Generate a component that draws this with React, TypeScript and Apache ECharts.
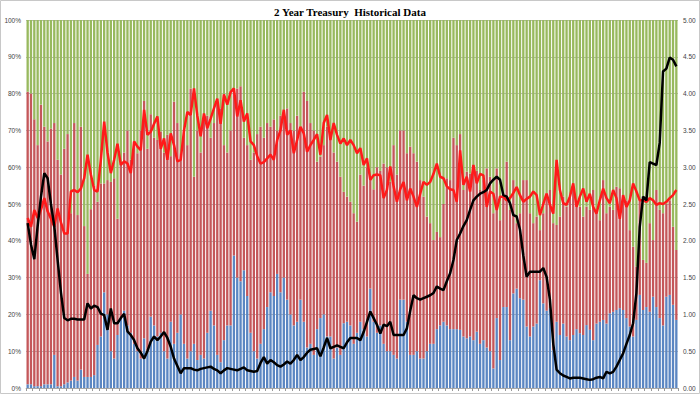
import React, { useEffect, useRef } from "react";
import * as echarts from "echarts";

// Share of each auction taken by the bottom (blue) bidder group, in %
const blueShare = [
  1, 1, 0.5, 0.5, 0.5, 1, 1, 1, 9, 0.5,
  0.5, 1, 1.5, 2, 3, 2, 5, 3, 3, 3,
  3.5, 11.7, 14, 26, 20, 10, 8, 14.4, 19, 21,
  17, 15, 12, 10, 8, 13.5, 10, 19.4, 17, 14,
  15, 10, 8, 18, 12, 15, 20, 12, 8, 10,
  12, 7.6, 9, 8, 15, 21, 17, 9, 7, 13,
  17, 17, 36, 30, 29, 32, 25, 15, 10, 8,
  12, 16, 22, 26, 25, 31, 26, 30, 24, 20,
  17, 18, 24, 18, 11, 12, 9, 16, 19, 20,
  14, 14, 8, 11, 9, 17.6, 18, 17, 12, 15,
  18, 16, 14, 27, 18, 15, 17, 12, 10, 10,
  9, 8, 24, 24, 18, 9, 9, 10, 8, 8,
  10, 12, 12, 16, 17, 18, 17, 16, 16, 16,
  15.8, 14, 13.5, 14, 13, 15.3, 12, 13, 11, 10,
  5.3, 19, 7.6, 22, 22, 13, 25.7, 27, 24.4, 24,
  16.7, 14, 16.7, 17.5, 29.3, 23, 21, 21.7, 10.3, 18,
  14.4, 17.5, 14, 13, 14.4, 16, 14.9, 14.4, 17.1, 15.8,
  13, 17.5, 18, 18.5, 17.5, 20.3, 20.7, 21.2, 21.7, 21.2,
  19, 16.7, 14, 18.5, 25.3, 21.2, 22, 20.7, 24.8, 22,
  19, 17, 24.8, 25.3, 22.6, 18.5,
];

// Top of the red segment (blue + red), in %; green fills the rest up to 100%
const blueRedTop = [
  80.5, 80, 73, 66, 77, 71, 67, 70.5, 72, 62,
  58, 65, 69, 47.5, 72, 47, 71, 44, 31, 48.6,
  55, 50.6, 55.6, 55.6, 56.5, 56, 57, 46, 61, 64,
  70, 62, 67, 63.8, 70, 78, 65, 74.4, 68, 67.4,
  69.7, 64, 68.8, 63, 77.8, 72, 63.8, 70, 66, 81.4,
  57.4, 70, 64, 74, 74, 68, 72, 77, 76, 66,
  64, 70, 81, 81.4, 82, 68, 66, 62, 64, 69,
  71, 68, 72, 71, 73, 70, 74, 75, 76, 72,
  70, 74, 71, 80.5, 78, 72, 70, 61.5, 62.9, 66,
  71, 68, 64, 61.5, 57.4, 53.3, 52, 50.6, 47.5, 45.2,
  58, 55, 60, 57, 54, 60, 59, 61, 60, 56,
  66, 58, 70, 70, 63.8, 65.6, 63.8, 61.5, 56.5, 52,
  46.6, 44.8, 40.2, 42.4, 41, 50, 57, 56.5, 68, 66,
  69, 53.8, 58.8, 58.3, 60.6, 59, 53.8, 56.5, 59.7, 57.4,
  47.5, 59.7, 45.6, 52.9, 61.5, 48.4, 56.5, 44.8, 47.5, 56.5,
  56.5, 47.5, 44.8, 46.6, 42.9, 47.5, 52.9, 53.8, 44.8, 44.3,
  46.6, 52, 49.3, 52, 53.8, 50.2, 49.3, 46.6, 49.3, 48.4,
  53.8, 48.4, 45.6, 56.5, 47.5, 49.3, 48.4, 54.7, 54.3, 52,
  51, 42.9, 38.4, 33, 51, 34.8, 34, 44.8, 40.2, 53.8,
  48.4, 47.5, 50, 51, 43.8, 37.5,
];

// Bid-to-cover ratio (right axis)
const bidToCover = [
  2.31, 2.19, 2.42, 2.31, 2.42, 2.58, 2.4, 2.3, 2.19, 2.44,
  2.25, 2.1, 2.1, 2.67, 2.69, 2.66, 2.71, 2.85, 3.17, 2.9,
  2.69, 2.67, 3.1, 3.62, 3.2, 2.92, 3.1, 3.32, 3.03, 3.08,
  3.05, 2.92, 3.35, 3.28, 3.23, 3.78, 3.44, 3.48, 3.59, 3.69,
  3.25, 3.39, 3.1, 3.46, 3.3, 3.08, 3.1, 3.5, 3.75, 3.71,
  4.07, 3.7, 3.42, 3.73, 3.53, 3.66, 3.8, 3.93, 3.59, 3.99,
  3.85, 4.02, 4.07, 3.69, 3.91, 3.62, 3.73, 3.35, 3.3, 3.15,
  3.05, 3.07, 3.12, 3.17, 3.1, 3.37, 3.5, 3.78, 3.44, 3.5,
  3.19, 3.37, 3.55, 3.46, 3.21, 3.3, 3.37, 3.45, 3.17, 3.6,
  3.71, 3.37, 3.6, 3.44, 3.32, 3.39, 3.3, 3.37, 3.3, 3.19,
  3.26, 3.03, 3.12, 2.83, 2.89, 2.9, 2.89, 2.58, 2.69, 3.01,
  2.74, 2.53, 2.7, 2.8, 2.55, 2.71, 2.6, 2.46, 2.64, 2.8,
  2.76, 2.8, 2.91, 3.05, 2.87, 2.85, 2.74, 2.7, 2.69, 2.53,
  3.23, 2.76, 2.87, 2.67, 3.03, 2.78, 2.91, 2.89, 2.46, 2.67,
  2.64, 2.42, 2.6, 2.6, 2.55, 2.58, 2.65, 2.73, 2.62, 2.53,
  2.57, 2.6, 2.67, 2.62, 2.35, 2.5, 2.64, 2.49, 2.37, 3.1,
  2.69, 2.51, 2.49, 2.6, 2.78, 2.46, 2.6, 2.71, 2.53, 2.64,
  2.46, 2.37, 2.55, 2.71, 2.58, 2.51, 2.69, 2.58, 2.3, 2.62,
  2.46, 2.55, 2.78, 2.67, 2.55, 2.55, 2.53, 2.58, 2.55, 2.49,
  2.51, 2.5, 2.53, 2.58, 2.62, 2.69,
];

// High yield (right axis)
const highYield = [
  2.24, 1.95, 1.75, 2.2, 2.6, 2.92, 2.85, 2.5, 2.2, 1.74,
  1.3, 0.95, 0.92, 0.94, 0.94, 0.93, 0.93, 0.93, 1.15, 1.08,
  1.12, 1.1, 1.01, 0.99, 0.79, 1.08, 0.88, 0.88, 0.95, 1.01,
  0.77, 0.72, 0.65, 0.54, 0.48, 0.4, 0.5, 0.63, 0.7, 0.65,
  0.7, 0.76, 0.68, 0.56, 0.4, 0.3, 0.2, 0.27, 0.27, 0.27,
  0.25, 0.24, 0.26, 0.27, 0.28, 0.29, 0.26, 0.24, 0.2, 0.24,
  0.27, 0.26, 0.25, 0.24, 0.26, 0.28, 0.24, 0.23, 0.22, 0.23,
  0.34, 0.42, 0.33, 0.38, 0.35, 0.31, 0.29, 0.32, 0.36, 0.33,
  0.38, 0.45, 0.38, 0.42, 0.48, 0.52, 0.53, 0.54, 0.43, 0.55,
  0.68, 0.54, 0.56, 0.58, 0.56, 0.54, 0.62, 0.68, 0.68, 0.68,
  0.65, 0.76, 0.9, 1.04, 0.95, 0.86, 0.74, 0.86, 0.84, 0.9,
  0.72, 0.72, 0.72, 0.72, 0.81, 1.05, 1.26, 1.22, 1.2, 1.22,
  1.24, 1.26, 1.29, 1.38, 1.35, 1.33, 1.45, 1.56, 1.74, 2.01,
  2.1, 2.2, 2.28, 2.42, 2.55, 2.6, 2.64, 2.66, 2.69, 2.78,
  2.83, 2.87, 2.83, 2.62, 2.6, 2.51, 2.35, 2.33, 2.15, 1.8,
  1.51, 1.58, 1.58, 1.58, 1.58, 1.63, 1.51, 1.2, 0.6, 0.25,
  0.2, 0.17, 0.15, 0.13, 0.14, 0.14, 0.14, 0.13, 0.12, 0.11,
  0.12, 0.14, 0.15, 0.13, 0.22, 0.2, 0.22, 0.29, 0.38, 0.47,
  0.6, 0.72, 0.88, 1.29, 2.19, 2.6, 2.55, 3.07, 3.05, 3.03,
  3.33, 4.3, 4.34, 4.49, 4.46, 4.37,
];

const categories = blueShare.map((_, i) => String(i + 1));

export default function App() {
  const ref = useRef<HTMLDivElement>(null);

  useEffect(() => {
    document.body.style.margin = "0";
    const chart = echarts.init(ref.current!, null, { renderer: "svg" });
    const redShare = blueRedTop.map((t, i) => +(t - blueShare[i]).toFixed(1));
    const greenShare = blueRedTop.map((t) => +(100 - t).toFixed(1));
    const axisFont = {
      fontFamily: "Liberation Sans, Arial, sans-serif",
      fontSize: 6.5,
      color: "#444",
    };
    chart.setOption({
      animation: false,
      backgroundColor: "#fff",
      title: {
        text: "2 Year Treasury  Historical Data",
        left: "center",
        top: 1,
        textStyle: {
          fontFamily: "Liberation Serif, Times New Roman, serif",
          fontWeight: "bold",
          fontSize: 11,
          color: "#000",
        },
      },
      grid: { left: 26, right: 22, top: 20, bottom: 6 },
      xAxis: {
        type: "category",
        data: categories,
        axisLabel: { show: false },
        axisTick: { show: true, length: 3, interval: 1, lineStyle: { color: "#999" } },
        axisLine: { show: true, lineStyle: { color: "#999", width: 0.5 } },
      },
      yAxis: [
        {
          type: "value",
          min: 0,
          max: 100,
          interval: 10,
          axisLabel: { ...axisFont, formatter: "{value}%", margin: 5 },
          axisLine: { show: false },
          axisTick: { show: false },
          splitLine: { show: true, lineStyle: { color: "#8a8a8a", width: 0.6 } },
        },
        {
          type: "value",
          min: 0,
          max: 5,
          interval: 0.5,
          position: "right",
          axisLabel: { ...axisFont, formatter: (v: number) => v.toFixed(2), margin: 5 },
          axisLine: { show: false },
          axisTick: { show: false },
          splitLine: { show: false },
        },
      ],
      series: [
        {
          name: "Blue",
          type: "bar",
          stack: "share",
          data: blueShare,
          barCategoryGap: "30%",
          itemStyle: { color: "#5b86c2" },
        },
        {
          name: "Red",
          type: "bar",
          stack: "share",
          data: redShare,
          barCategoryGap: "30%",
          itemStyle: { color: "#c4575a" },
        },
        {
          name: "Green",
          type: "bar",
          stack: "share",
          data: greenShare,
          barCategoryGap: "30%",
          itemStyle: { color: "#98b95e" },
        },
        {
          name: "Bid to Cover",
          type: "line",
          yAxisIndex: 1,
          data: bidToCover,
          symbol: "none",
          lineStyle: { color: "#ff1a1a", width: 2.5 },
          z: 5,
        },
        {
          name: "High Yield",
          type: "line",
          yAxisIndex: 1,
          data: highYield,
          symbol: "none",
          lineStyle: { color: "#000", width: 2.5 },
          z: 6,
        },
      ],
      graphic: [
        {
          type: "rect",
          shape: { x: 0.5, y: 0.5, width: 699, height: 393 },
          style: { fill: "none", stroke: "#c8c8c8", lineWidth: 1 },
          silent: true,
        },
      ],
    });
    return () => chart.dispose();
  }, []);

  return <div ref={ref} style={{ width: 700, height: 394 }} />;
}
